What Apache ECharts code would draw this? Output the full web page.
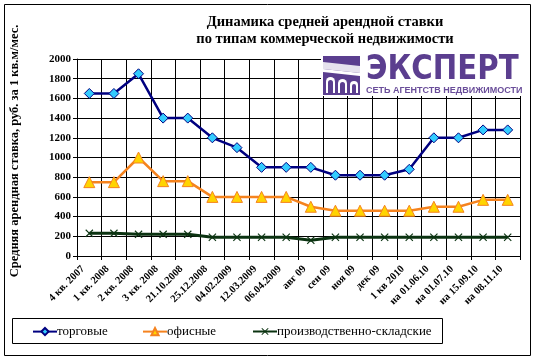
<!DOCTYPE html>
<html>
<head>
<meta charset="utf-8">
<script src="https://cdn.jsdelivr.net/npm/echarts@6/dist/echarts.min.js"></script>
<style>html,body{margin:0;padding:0;background:#fff;}#c{width:537px;height:361px;}</style>
</head>
<body>
<div id="c"></div>
<script>
const categories = ["4 кв. 2007","1 кв. 2008","2 кв. 2008","3 кв. 2008","21.10.2008","25.12.2008","04.02.2009","12.03.2009","06.04.2009","авг 09","сен 09","ноя 09","дек 09","1 кв 2010","на 01.06.10","на 01.07.10","на 15.09.10","на 08.11.10"];
const retail = [1650,1650,1850,1400,1400,1200,1100,900,900,900,820,820,820,880,1200,1200,1280,1280];
const office = [750,750,1000,760,760,600,600,600,600,500,460,460,460,460,500,500,570,570];
const warehouse = [230,230,220,220,220,190,190,190,190,160,190,190,190,190,190,190,190,190];
const seriesNames = ['торговые', 'офисные', 'производственно-складские'];
const yTicks = {min:0, max:2000, interval:200};

const serif = 'Liberation Serif';
const chart = echarts.init(document.getElementById('c'), null, {renderer:'canvas'});
const crossPath = 'path://M0,1L1,0L5,4L9,0L10,1L6,5L10,9L9,10L5,6L1,10L0,9L4,5Z';
const legendLeft = [32, 142, 252];
function legendFor(name, left) {
  return {data: [name], left: left, top: 327, itemWidth: 24, itemHeight: 9,
          itemGap: 0, padding: 0, formatter: () => '', textStyle: {fontSize: 1}};
}
function legendLabel(name, left) {
  return {type: 'text', z: 100, silent: true, x: left + 25, y: 332,
          style: {text: name, fontFamily: serif, fontSize: 13, fill: '#000', textAlign: 'left', textVerticalAlign: 'middle'}};
}
chart.setOption({
  animation: false,
  backgroundColor: '#fff',
  textStyle: {fontFamily: serif},
  title: {
    text: 'Динамика средней арендной ставки\nпо типам коммерческой недвижимости',
    left: 320, top: 9, textAlign: 'center',
    textStyle: {fontFamily: serif, fontWeight: 'bold', fontSize: 14.5, lineHeight: 17, color: '#000'}
  },
  grid: {left: 77, right: 17, top: 59, bottom: 105, containLabel: false},
  legend: seriesNames.map((n, i) => legendFor(n, legendLeft[i])),
  xAxis: {
    type: 'category', data: categories, boundaryGap: true,
    axisLine: {lineStyle: {color: '#000', width: 1}},
    axisTick: {show: true, interval: 0, length: 4, lineStyle: {color: '#000'}},
    splitLine: {show: true, interval: 0, lineStyle: {color: '#000', width: 1}},
    axisLabel: {interval: 0, rotate: 45, margin: 5, padding: [0, 9, 0, 0], fontFamily: serif, fontSize: 10.5, fontWeight: 'bold', color: '#000'}
  },
  yAxis: {
    type: 'value', min: yTicks.min, max: yTicks.max, interval: yTicks.interval,
    axisLine: {show: true, lineStyle: {color: '#000', width: 1}},
    axisTick: {show: true, length: 4, lineStyle: {color: '#000'}},
    splitLine: {show: true, lineStyle: {color: '#000', width: 1}},
    axisLabel: {margin: 6, fontFamily: serif, fontSize: 11, fontWeight: 'bold', color: '#000', formatter: v => String(v)}
  },
  series: [
    {name: seriesNames[0], type: 'line', data: retail, symbol: 'diamond', symbolSize: 10,
     lineStyle: {color: '#000080', width: 2.5},
     itemStyle: {color: '#33CCFF', borderColor: '#000080', borderWidth: 1}, z: 3},
    {name: seriesNames[1], type: 'line', data: office, symbol: 'triangle', symbolSize: 11,
     lineStyle: {color: '#F5831F', width: 2.5},
     itemStyle: {color: '#FFD400', borderColor: '#F5831F', borderWidth: 1}, z: 3},
    {name: seriesNames[2], type: 'line', data: warehouse, symbol: crossPath, symbolSize: 8,
     lineStyle: {color: '#0B3311', width: 3},
     itemStyle: {color: '#0B3311', borderColor: '#0B3311', borderWidth: 0}, z: 3}
  ],
  graphic: [
    {type: 'rect', z: 100, silent: true, shape: {x: 4.5, y: 4.5, width: 526, height: 351},
     style: {fill: 'none', stroke: '#000', lineWidth: 1}},
    {type: 'rect', z: 100, silent: true, shape: {x: 12.5, y: 318.5, width: 430, height: 25},
     style: {fill: 'none', stroke: '#000', lineWidth: 1}},
    legendLabel(seriesNames[0], legendLeft[0]),
    legendLabel(seriesNames[1], legendLeft[1]),
    legendLabel(seriesNames[2], legendLeft[2]),
    {type: 'text', z: 100, silent: true, x: 15, y: 151, rotation: Math.PI / 2,
     style: {text: 'Средняя арендная ставка, руб. за 1 кв.м/мес.', fontFamily: serif, fontWeight: 'bold', fontSize: 12.5,
             fill: '#000', textAlign: 'center', textVerticalAlign: 'middle'}},
    {type: 'rect', z: 100, silent: true, shape: {x: 321, y: 50, width: 201, height: 46}, style: {fill: '#fff'}},
    {type: 'rect', z: 101, silent: true, shape: {x: 323, y: 56, width: 37, height: 39}, style: {fill: '#5B3E8F'}},
    {type: 'polygon', z: 102, silent: true, shape: {points: [[323, 62], [360, 66], [360, 73], [323, 69]]}, style: {fill: '#E6E2EE'}},
    {type: 'polygon', z: 102, silent: true, shape: {points: [[323, 69], [360, 73], [360, 76], [323, 72]]}, style: {fill: '#ffffff'}},
    {type: 'rect', z: 103, silent: true, shape: {x: 326, y: 77, width: 9, height: 16, r: [4.5, 4.5, 0, 0]}, style: {fill: '#fff'}},
    {type: 'rect', z: 103, silent: true, shape: {x: 338, y: 79, width: 9, height: 14, r: [4.5, 4.5, 0, 0]}, style: {fill: '#fff'}},
    {type: 'rect', z: 103, silent: true, shape: {x: 350, y: 81, width: 8, height: 12, r: [4, 4, 0, 0]}, style: {fill: '#fff'}},
    {type: 'rect', z: 104, silent: true, shape: {x: 328, y: 80, width: 5, height: 13, r: [2.5, 2.5, 0, 0]}, style: {fill: '#5B3E8F'}},
    {type: 'rect', z: 104, silent: true, shape: {x: 340, y: 82, width: 5, height: 11, r: [2.5, 2.5, 0, 0]}, style: {fill: '#5B3E8F'}},
    {type: 'rect', z: 104, silent: true, shape: {x: 352, y: 84, width: 4, height: 9, r: [2, 2, 0, 0]}, style: {fill: '#5B3E8F'}},
    {type: 'text', z: 101, silent: true, x: 366, y: 70, scaleX: 0.86,
     style: {text: 'ЭКСПЕРТ', fontFamily: 'DejaVu Sans', fontWeight: 'bold', fontSize: 34, fill: '#5B3E8F',
             textAlign: 'left', textVerticalAlign: 'middle'}},
    {type: 'text', z: 101, silent: true, x: 366, y: 91, scaleX: 1.0,
     style: {text: 'СЕТЬ АГЕНТСТВ НЕДВИЖИМОСТИ', fontFamily: 'Liberation Sans', fontWeight: 'bold', fontSize: 9, fill: '#6A4E9A',
             textAlign: 'left', textVerticalAlign: 'middle'}}
  ]
});
</script>
</body>
</html>
